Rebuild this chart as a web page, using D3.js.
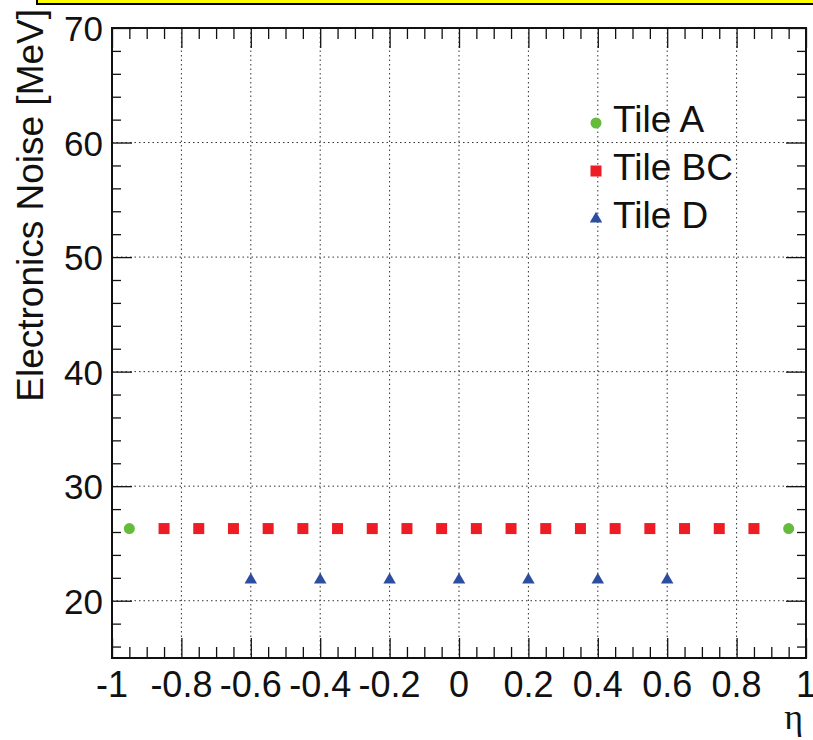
<!DOCTYPE html>
<html>
<head>
<meta charset="utf-8">
<script src="https://cdn.jsdelivr.net/npm/d3@7"></script>
<style>
  body { margin: 0; background: #fff; }
  svg text { font-family: "Liberation Sans", Arial, sans-serif; fill: #111; }
</style>
</head>
<body>
<div id="chart"></div>
<script>
// data
const tileA_eta = [-0.95, 0.95];
const tileA_noise = [26.3, 26.3];
const tileBC_eta = [-0.85, -0.75, -0.65, -0.55, -0.45, -0.35, -0.25, -0.15, -0.05,
  0.05, 0.15, 0.25, 0.35, 0.45, 0.55, 0.65, 0.75, 0.85];
const tileBC_noise = [26.3, 26.3, 26.3, 26.3, 26.3, 26.3, 26.3, 26.3, 26.3,
  26.3, 26.3, 26.3, 26.3, 26.3, 26.3, 26.3, 26.3, 26.3];
const tileD_eta = [-0.6, -0.4, -0.2, 0, 0.2, 0.4, 0.6];
const tileD_noise = [21.9, 21.9, 21.9, 21.9, 21.9, 21.9, 21.9];
const xTicks = [-1, -0.8, -0.6, -0.4, -0.2, 0, 0.2, 0.4, 0.6, 0.8, 1];
const yTicks = [20, 30, 40, 50, 60, 70];
const legendNames = ['Tile A', 'Tile BC', 'Tile D'];

const width = 813;
const height = 740;
const margin = { top: 28, right: 7, bottom: 82, left: 112 };

const svg = d3.select('#chart').append('svg')
  .attr('width', width)
  .attr('height', height);

// yellow title box cut off at the top
svg.append('rect')
  .attr('x', 37).attr('y', -10)
  .attr('width', 800).attr('height', 14)
  .attr('fill', '#ffff00')
  .attr('stroke', '#000').attr('stroke-width', 2);

const xScale = d3.scaleLinear().domain([-1, 1])
  .range([margin.left, width - margin.right]);
const yScale = d3.scaleLinear().domain([15, 70])
  .range([height - margin.bottom, margin.top]);

const plotW = width - margin.right - margin.left;
const plotH = height - margin.bottom - margin.top;

// dotted grid on major ticks
const grid = svg.append('g').attr('class', 'grid');
grid.selectAll('line.gx').data(xTicks.slice(1, -1)).join('line')
  .attr('x1', (d) => xScale(d)).attr('x2', (d) => xScale(d))
  .attr('y1', margin.top).attr('y2', height - margin.bottom)
  .attr('stroke', '#333').attr('stroke-width', 1).attr('stroke-dasharray', '1.5,3');
grid.selectAll('line.gy').data(yTicks.slice(0, -1)).join('line')
  .attr('x1', margin.left).attr('x2', width - margin.right)
  .attr('y1', (d) => yScale(d)).attr('y2', (d) => yScale(d))
  .attr('stroke', '#333').attr('stroke-width', 1).attr('stroke-dasharray', '1.5,3');

// minor ticks every 0.05 in eta and 2 MeV in noise
const xMinor = d3.range(-1, 1.0001, 0.05).map((d) => +d.toFixed(2));
const yMinor = d3.range(16, 70.0001, 2);

const xMajorSet = (d) => xTicks.some((m) => Math.abs(m - d) < 1e-6);
const yMajorSet = (d) => yTicks.some((m) => Math.abs(m - d) < 1e-6);

// bottom axis
const gBottom = svg.append('g')
  .attr('transform', `translate(0,${height - margin.bottom})`)
  .call(d3.axisTop(xScale).tickValues(xMinor).tickFormat('').tickSizeOuter(0).tickSize(0));
gBottom.select('.domain').remove();
gBottom.selectAll('.tick line')
  .attr('y2', (d) => (xMajorSet(d) ? -20 : -11))
  .attr('stroke', '#111').attr('stroke-width', 1.3);

// top axis
const gTop = svg.append('g')
  .attr('transform', `translate(0,${margin.top})`)
  .call(d3.axisBottom(xScale).tickValues(xMinor).tickFormat('').tickSizeOuter(0).tickSize(0));
gTop.select('.domain').remove();
gTop.selectAll('.tick line')
  .attr('y2', (d) => (xMajorSet(d) ? 20 : 11))
  .attr('stroke', '#111').attr('stroke-width', 1.3);

// left axis
const gLeft = svg.append('g')
  .attr('transform', `translate(${margin.left},0)`)
  .call(d3.axisRight(yScale).tickValues(yMinor).tickFormat('').tickSizeOuter(0).tickSize(0));
gLeft.select('.domain').remove();
gLeft.selectAll('.tick line')
  .attr('x2', (d) => (yMajorSet(d) ? 20 : 9))
  .attr('stroke', '#111').attr('stroke-width', 1.3);

// right axis
const gRight = svg.append('g')
  .attr('transform', `translate(${width - margin.right},0)`)
  .call(d3.axisLeft(yScale).tickValues(yMinor).tickFormat('').tickSizeOuter(0).tickSize(0));
gRight.select('.domain').remove();
gRight.selectAll('.tick line')
  .attr('x2', (d) => (yMajorSet(d) ? -20 : -9))
  .attr('stroke', '#111').attr('stroke-width', 1.3);

// frame
svg.append('rect')
  .attr('x', margin.left).attr('y', margin.top)
  .attr('width', plotW).attr('height', plotH)
  .attr('fill', 'none').attr('stroke', '#111').attr('stroke-width', 2);

// tick labels (plain hyphen as in the original)
svg.append('g').selectAll('text').data(xTicks).join('text')
  .attr('x', (d) => xScale(d))
  .attr('y', 697)
  .attr('text-anchor', 'middle')
  .attr('font-size', 36)
  .text((d) => String(d));

svg.append('g').selectAll('text').data(yTicks).join('text')
  .attr('x', margin.left - 9)
  .attr('y', (d) => yScale(d) + 13)
  .attr('text-anchor', 'end')
  .attr('font-size', 35)
  .text((d) => d);

// axis titles
svg.append('text')
  .attr('transform', `translate(43,9) rotate(-90)`)
  .attr('text-anchor', 'end')
  .attr('font-size', 37)
  .text('Electronics Noise [MeV]');

svg.append('text')
  .attr('x', 803)
  .attr('y', 729)
  .attr('text-anchor', 'end')
  .attr('font-size', 36)
  .style('font-family', '"Liberation Serif", "DejaVu Serif", serif')
  .text('η');

// markers
const green = '#66bb3c';
const red = '#ee1c24';
const blue = '#2d4ea0';

const triangle = d3.symbol().type(d3.symbolTriangle).size(68);

svg.append('g').selectAll('circle')
  .data(tileA_eta.map((e, i) => [e, tileA_noise[i]]))
  .join('circle')
  .attr('cx', (d) => xScale(d[0]))
  .attr('cy', (d) => yScale(d[1]))
  .attr('r', 5.5)
  .attr('fill', green);

svg.append('g').selectAll('rect')
  .data(tileBC_eta.map((e, i) => [e, tileBC_noise[i]]))
  .join('rect')
  .attr('x', (d) => xScale(d[0]) - 5.5)
  .attr('y', (d) => yScale(d[1]) - 5.5)
  .attr('width', 11).attr('height', 11)
  .attr('fill', red);

svg.append('g').selectAll('path')
  .data(tileD_eta.map((e, i) => [e, tileD_noise[i]]))
  .join('path')
  .attr('transform', (d) => `translate(${xScale(d[0])},${yScale(d[1]) + 1})`)
  .attr('d', triangle)
  .attr('fill', blue);

// legend
const legend = svg.append('g').attr('transform', 'translate(596,123)');
const rowGap = 48;
legend.append('circle').attr('cx', 0).attr('cy', 0).attr('r', 5.5).attr('fill', green);
legend.append('rect').attr('x', -5.5).attr('y', rowGap - 5.5)
  .attr('width', 11).attr('height', 11).attr('fill', red);
legend.append('path').attr('transform', `translate(0,${rowGap * 2})`)
  .attr('d', triangle).attr('fill', blue);
legend.selectAll('text').data(legendNames).join('text')
  .attr('x', 17)
  .attr('y', (d, i) => i * rowGap + 9)
  .attr('font-size', 37)
  .text((d) => d);
</script>
</body>
</html>
